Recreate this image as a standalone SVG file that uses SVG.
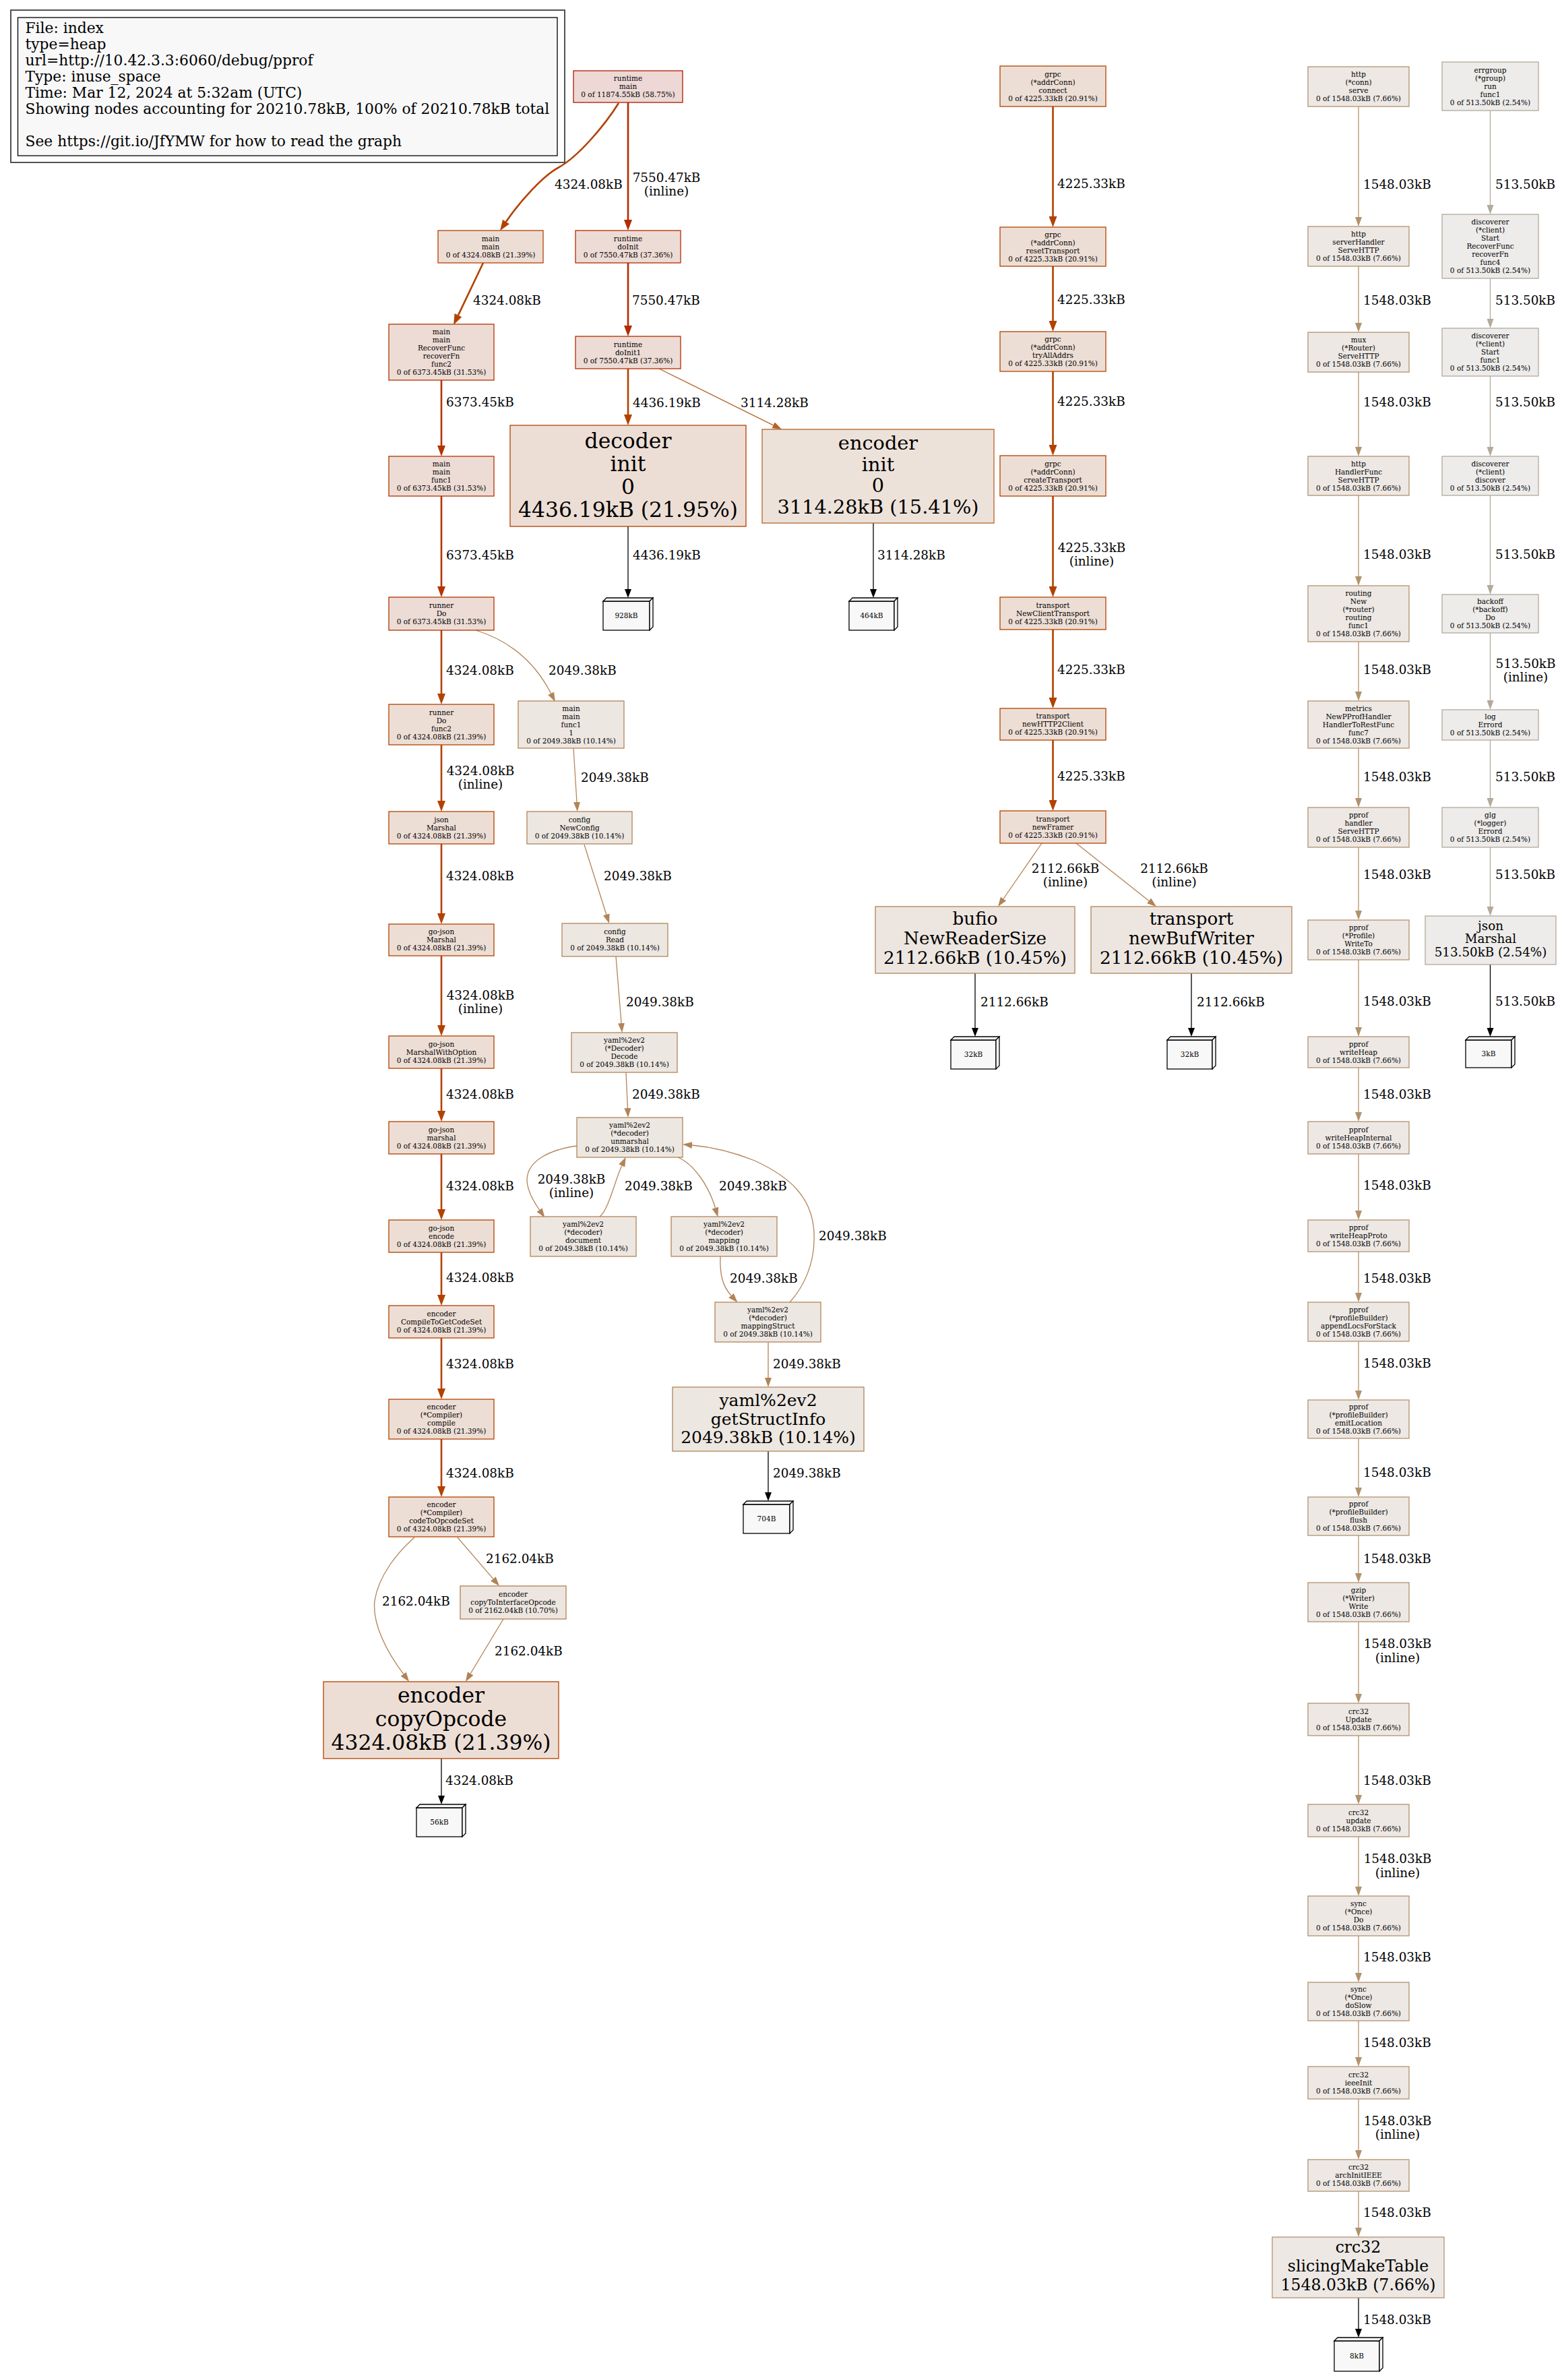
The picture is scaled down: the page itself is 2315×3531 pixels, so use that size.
<svg xmlns="http://www.w3.org/2000/svg" width="2315" height="3531" viewBox="0 0 2315 3531">
<defs>
<style>
text{font-family:"DejaVu Serif","Liberation Serif",serif;fill:#000}
.n text{font-size:10.5px;text-anchor:middle}
.n rect,.n polygon{stroke-width:1.3}
.b text{text-anchor:middle}
.g{font-size:21.8px}
.l{font-size:18.4px}
.lc{font-size:18.4px;text-anchor:middle}
.e path{fill:none;stroke-width:1.3}
.e path.t{stroke-width:2.6}
.c58 rect{fill:#edd8d5;stroke:#b21a00}
.c37 rect{fill:#eddbd5;stroke:#b22d00}
.c31 rect{fill:#eddcd5;stroke:#b23400}
.c22 rect{fill:#edded5;stroke:#b24100}
.c21 rect{fill:#edded5;stroke:#b24200}
.c15 rect{fill:#ede2da;stroke:#b26428}
.c107 rect{fill:#ede6e0;stroke:#b28153}
.c104 rect{fill:#ede6e0;stroke:#b28355}
.c101 rect{fill:#ede7e1;stroke:#b28458}
.c76 rect{fill:#ede8e4;stroke:#b2926e}
.c25 rect{fill:#edecea;stroke:#b2aa9b}
.tag rect,.tag polygon{fill:#f8f8f8;stroke:#000}
</style>
<marker id="m2d" markerUnits="userSpaceOnUse" markerWidth="16" markerHeight="12" refX="0" refY="6" orient="auto"><path d="M0,0L16,6L0,12z" fill="#b22d00"/></marker>
<marker id="m34" markerUnits="userSpaceOnUse" markerWidth="16" markerHeight="12" refX="0" refY="6" orient="auto"><path d="M0,0L16,6L0,12z" fill="#b23400"/></marker>
<marker id="m41" markerUnits="userSpaceOnUse" markerWidth="16" markerHeight="12" refX="0" refY="6" orient="auto"><path d="M0,0L16,6L0,12z" fill="#b24100"/></marker>
<marker id="m42" markerUnits="userSpaceOnUse" markerWidth="16" markerHeight="12" refX="0" refY="6" orient="auto"><path d="M0,0L16,6L0,12z" fill="#b24200"/></marker>
<marker id="m64" markerUnits="userSpaceOnUse" markerWidth="14" markerHeight="10" refX="0" refY="5" orient="auto"><path d="M0,0L14,5L0,10z" fill="#b26428"/></marker>
<marker id="m81" markerUnits="userSpaceOnUse" markerWidth="14" markerHeight="10" refX="0" refY="5" orient="auto"><path d="M0,0L14,5L0,10z" fill="#b28153"/></marker>
<marker id="m83" markerUnits="userSpaceOnUse" markerWidth="14" markerHeight="10" refX="0" refY="5" orient="auto"><path d="M0,0L14,5L0,10z" fill="#b28355"/></marker>
<marker id="m84" markerUnits="userSpaceOnUse" markerWidth="14" markerHeight="10" refX="0" refY="5" orient="auto"><path d="M0,0L14,5L0,10z" fill="#b28458"/></marker>
<marker id="m92" markerUnits="userSpaceOnUse" markerWidth="14" markerHeight="10" refX="0" refY="5" orient="auto"><path d="M0,0L14,5L0,10z" fill="#b2926e"/></marker>
<marker id="maa" markerUnits="userSpaceOnUse" markerWidth="14" markerHeight="10" refX="0" refY="5" orient="auto"><path d="M0,0L14,5L0,10z" fill="#b2aa9b"/></marker>
<marker id="mk" markerUnits="userSpaceOnUse" markerWidth="13" markerHeight="10" refX="0" refY="5" orient="auto"><path d="M0,0L13,5L0,10z" fill="#000"/></marker>
</defs>
<rect width="2315" height="3531" fill="#fff"/>

<g id="legend">
<rect x="16" y="15" width="822" height="226" fill="#fff" stroke="#404040" stroke-width="1.8"/>
<rect x="26.5" y="26" width="800.5" height="205" fill="#f8f8f8" stroke="#000" stroke-width="1.3"/>
<text class="g" x="37.5" y="49">File: index</text>
<text class="g" x="37.5" y="73">type=heap</text>
<text class="g" x="37.5" y="97">url=http://10.42.3.3:6060/debug/pprof</text>
<text class="g" x="37.5" y="121">Type: inuse_space</text>
<text class="g" x="37.5" y="145">Time: Mar 12, 2024 at 5:32am (UTC)</text>
<text class="g" x="37.5" y="169">Showing nodes accounting for 20210.78kB, 100% of 20210.78kB total</text>
<text class="g" x="37.5" y="217">See https://git.io/JfYMW for how to read the graph</text>
</g>

<g id="edges" class="e">
<path class="t" d="M918,153 C898,185 858,233 828,249 C806,261 772,298 751,329" stroke="#b24200" marker-end="url(#m42)"/>
<text class="l" x="823" y="279.5">4324.08kB</text>
<path class="t" d="M932,152 L932,326" stroke="#b22d00" marker-end="url(#m2d)"/>
<text class="lc" x="989" y="270">7550.47kB</text><text class="lc" x="989" y="290">(inline)</text>
<path class="t" d="M717,390 L680,467.6" stroke="#b24200" marker-end="url(#m42)"/>
<text class="l" x="702" y="451.5">4324.08kB</text>
<path class="t" d="M932,390 L932,483" stroke="#b22d00" marker-end="url(#m2d)"/>
<text class="l" x="938" y="451.5">7550.47kB</text>
<path class="t" d="M932,547 L932,615" stroke="#b24100" marker-end="url(#m41)"/>
<text class="l" x="939" y="603.5">4436.19kB</text>
<path d="M978,547 L1147.5,630.8" stroke="#b26428" marker-end="url(#m64)"/>
<text class="l" x="1099" y="603.5">3114.28kB</text>
<path class="t" d="M655,564 L655,661" stroke="#b23400" marker-end="url(#m34)"/>
<text class="l" x="662" y="602.5">6373.45kB</text>
<path class="t" d="M655,736 L655,870" stroke="#b23400" marker-end="url(#m34)"/>
<text class="l" x="662" y="829.5">6373.45kB</text>
<path class="t" d="M655,935 L655,1029" stroke="#b24200" marker-end="url(#m42)"/>
<text class="l" x="662" y="1000.5">4324.08kB</text>
<path d="M706,935 C748,948 790,975 817.6,1028.8" stroke="#b28458" marker-end="url(#m84)"/>
<text class="l" x="814" y="1000.5">2049.38kB</text>
<path class="t" d="M655,1105 L655,1188" stroke="#b24200" marker-end="url(#m42)"/>
<text class="lc" x="713" y="1149.5">4324.08kB</text><text class="lc" x="713" y="1169.5">(inline)</text>
<path class="t" d="M655,1252 L655,1355" stroke="#b24200" marker-end="url(#m42)"/>
<text class="l" x="662" y="1305.5">4324.08kB</text>
<path class="t" d="M655,1418 L655,1521" stroke="#b24200" marker-end="url(#m42)"/>
<text class="lc" x="713" y="1482.5">4324.08kB</text><text class="lc" x="713" y="1503">(inline)</text>
<path class="t" d="M655,1585 L655,1648" stroke="#b24200" marker-end="url(#m42)"/>
<text class="l" x="662" y="1629.5">4324.08kB</text>
<path class="t" d="M655,1712 L655,1794" stroke="#b24200" marker-end="url(#m42)"/>
<text class="l" x="662" y="1765.5">4324.08kB</text>
<path class="t" d="M655,1858 L655,1921" stroke="#b24200" marker-end="url(#m42)"/>
<text class="l" x="662" y="1901.5">4324.08kB</text>
<path class="t" d="M655,1985 L655,2060" stroke="#b24200" marker-end="url(#m42)"/>
<text class="l" x="662" y="2029.5">4324.08kB</text>
<path class="t" d="M655,2135 L655,2205" stroke="#b24200" marker-end="url(#m42)"/>
<text class="l" x="662" y="2191.5">4324.08kB</text>
<path d="M615,2281 C590,2303 562,2337 556,2375 C552,2410 575,2452 598.7,2483.7" stroke="#b28153" marker-end="url(#m81)"/>
<text class="l" x="567" y="2381.5">2162.04kB</text>
<path d="M679,2281 L731.9,2342.4" stroke="#b28153" marker-end="url(#m81)"/>
<text class="l" x="721" y="2318.5">2162.04kB</text>
<path d="M747,2402 L698.2,2483" stroke="#b28153" marker-end="url(#m81)"/>
<text class="l" x="734" y="2455.5">2162.04kB</text>
<path d="M655,2609 L655,2664" stroke="#000" marker-end="url(#mk)"/>
<text class="l" x="661" y="2647.5">4324.08kB</text>
<path d="M932,781 L932,874" stroke="#000" marker-end="url(#mk)"/>
<text class="l" x="939" y="829.5">4436.19kB</text>
<path d="M1296,776 L1296,874" stroke="#000" marker-end="url(#mk)"/>
<text class="l" x="1302" y="829.5">3114.28kB</text>
<path d="M851,1110 L856,1190" stroke="#b28458" marker-end="url(#m84)"/>
<text class="l" x="862" y="1159.5">2049.38kB</text>
<path d="M867,1253 L899.8,1356.7" stroke="#b28458" marker-end="url(#m84)"/>
<text class="l" x="896" y="1305.5">2049.38kB</text>
<path d="M914,1419 L922,1518" stroke="#b28458" marker-end="url(#m84)"/>
<text class="l" x="929" y="1492.5">2049.38kB</text>
<path d="M929,1591 L931.4,1644" stroke="#b28458" marker-end="url(#m84)"/>
<text class="l" x="938" y="1629.5">2049.38kB</text>
<path d="M856,1700 C815,1706 783,1722 782,1750 C782,1765 790,1780 800.5,1795" stroke="#b28458" marker-end="url(#m84)"/>
<text class="lc" x="848" y="1755.5">2049.38kB</text><text class="lc" x="848" y="1776">(inline)</text>
<path d="M890,1805 C903,1795 913,1750 922.7,1729.5" stroke="#b28458" marker-end="url(#m84)"/>
<text class="l" x="927" y="1765.5">2049.38kB</text>
<path d="M1006,1717 C1030,1727 1052,1760 1061.4,1792" stroke="#b28458" marker-end="url(#m84)"/>
<text class="l" x="1067" y="1765.5">2049.38kB</text>
<path d="M1069,1864 C1068,1890 1072,1908 1085,1922" stroke="#b28458" marker-end="url(#m84)"/>
<text class="l" x="1083" y="1902.5">2049.38kB</text>
<path d="M1172,1932 C1192,1910 1210,1875 1208,1830 C1206,1775 1170,1745 1120,1722 C1090,1710 1060,1702 1027,1699" stroke="#b28458" marker-end="url(#m84)"/>
<text class="l" x="1215" y="1839.5">2049.38kB</text>
<path d="M1140,1991 L1140,2044" stroke="#b28458" marker-end="url(#m84)"/>
<text class="l" x="1147" y="2029.5">2049.38kB</text>
<path d="M1140,2153 L1140,2214" stroke="#000" marker-end="url(#mk)"/>
<text class="l" x="1147" y="2191.5">2049.38kB</text>
<path class="t" d="M1562.5,158 L1562.5,321" stroke="#b24200" marker-end="url(#m42)"/>
<text class="l" x="1569" y="278.5">4225.33kB</text>
<path class="t" d="M1562.5,395 L1562.5,476" stroke="#b24200" marker-end="url(#m42)"/>
<text class="l" x="1569" y="450.5">4225.33kB</text>
<path class="t" d="M1562.5,551 L1562.5,660" stroke="#b24200" marker-end="url(#m42)"/>
<text class="l" x="1569" y="601.5">4225.33kB</text>
<path class="t" d="M1562.5,736 L1562.5,870" stroke="#b24200" marker-end="url(#m42)"/>
<text class="lc" x="1620" y="818.5">4225.33kB</text><text class="lc" x="1620" y="839">(inline)</text>
<path class="t" d="M1562.5,934 L1562.5,1035" stroke="#b24200" marker-end="url(#m42)"/>
<text class="l" x="1569" y="999.5">4225.33kB</text>
<path class="t" d="M1562.5,1098 L1562.5,1187" stroke="#b24200" marker-end="url(#m42)"/>
<text class="l" x="1569" y="1157.5">4225.33kB</text>
<path d="M1546,1251 L1489,1333.5" stroke="#b28355" marker-end="url(#m83)"/>
<text class="lc" x="1581" y="1294.5">2112.66kB</text><text class="lc" x="1581" y="1315">(inline)</text>
<path d="M1597,1251 L1705,1336.4" stroke="#b28355" marker-end="url(#m83)"/>
<text class="lc" x="1742.5" y="1294.5">2112.66kB</text><text class="lc" x="1742.5" y="1315">(inline)</text>
<path d="M1447,1444 L1447,1525" stroke="#000" marker-end="url(#mk)"/>
<text class="l" x="1455" y="1492.5">2112.66kB</text>
<path d="M1768,1444 L1768,1525" stroke="#000" marker-end="url(#mk)"/>
<text class="l" x="1776" y="1492.5">2112.66kB</text>
<path d="M2016,158 L2016,322" stroke="#b2926e" marker-end="url(#m92)"/>
<text class="l" x="2023" y="279.5">1548.03kB</text>
<path d="M2016,395 L2016,479" stroke="#b2926e" marker-end="url(#m92)"/>
<text class="l" x="2023" y="451.5">1548.03kB</text>
<path d="M2016,552 L2016,663" stroke="#b2926e" marker-end="url(#m92)"/>
<text class="l" x="2023" y="602.5">1548.03kB</text>
<path d="M2016,735 L2016,855" stroke="#b2926e" marker-end="url(#m92)"/>
<text class="l" x="2023" y="828.5">1548.03kB</text>
<path d="M2016,952 L2016,1026" stroke="#b2926e" marker-end="url(#m92)"/>
<text class="l" x="2023" y="999.5">1548.03kB</text>
<path d="M2016,1110 L2016,1184" stroke="#b2926e" marker-end="url(#m92)"/>
<text class="l" x="2023" y="1158.5">1548.03kB</text>
<path d="M2016,1257 L2016,1351" stroke="#b2926e" marker-end="url(#m92)"/>
<text class="l" x="2023" y="1303.5">1548.03kB</text>
<path d="M2016,1424 L2016,1524" stroke="#b2926e" marker-end="url(#m92)"/>
<text class="l" x="2023" y="1491.5">1548.03kB</text>
<path d="M2016,1584 L2016,1650" stroke="#b2926e" marker-end="url(#m92)"/>
<text class="l" x="2023" y="1629.5">1548.03kB</text>
<path d="M2016,1712 L2016,1796" stroke="#b2926e" marker-end="url(#m92)"/>
<text class="l" x="2023" y="1764.5">1548.03kB</text>
<path d="M2016,1857 L2016,1918" stroke="#b2926e" marker-end="url(#m92)"/>
<text class="l" x="2023" y="1902.5">1548.03kB</text>
<path d="M2016,1990 L2016,2063" stroke="#b2926e" marker-end="url(#m92)"/>
<text class="l" x="2023" y="2028.5">1548.03kB</text>
<path d="M2016,2134 L2016,2207" stroke="#b2926e" marker-end="url(#m92)"/>
<text class="l" x="2023" y="2190.5">1548.03kB</text>
<path d="M2016,2278 L2016,2334" stroke="#b2926e" marker-end="url(#m92)"/>
<text class="l" x="2023" y="2318.5">1548.03kB</text>
<path d="M2016,2406 L2016,2513" stroke="#b2926e" marker-end="url(#m92)"/>
<text class="lc" x="2074" y="2444.5">1548.03kB</text><text class="lc" x="2074" y="2466">(inline)</text>
<path d="M2016,2575 L2016,2663" stroke="#b2926e" marker-end="url(#m92)"/>
<text class="l" x="2023" y="2647.5">1548.03kB</text>
<path d="M2016,2725 L2016,2799" stroke="#b2926e" marker-end="url(#m92)"/>
<text class="lc" x="2074" y="2763.5">1548.03kB</text><text class="lc" x="2074" y="2785">(inline)</text>
<path d="M2016,2872 L2016,2927" stroke="#b2926e" marker-end="url(#m92)"/>
<text class="l" x="2023" y="2909.5">1548.03kB</text>
<path d="M2016,2998 L2016,3052" stroke="#b2926e" marker-end="url(#m92)"/>
<text class="l" x="2023" y="3036.5">1548.03kB</text>
<path d="M2016,3114 L2016,3190" stroke="#b2926e" marker-end="url(#m92)"/>
<text class="lc" x="2074" y="3152.5">1548.03kB</text><text class="lc" x="2074" y="3173">(inline)</text>
<path d="M2016,3251 L2016,3305" stroke="#b2926e" marker-end="url(#m92)"/>
<text class="l" x="2023" y="3288.5">1548.03kB</text>
<path d="M2016,3409 L2016,3455" stroke="#000" marker-end="url(#mk)"/>
<text class="l" x="2023" y="3447.5">1548.03kB</text>
<path d="M2211.5,164 L2211.5,304" stroke="#b2aa9b" marker-end="url(#maa)"/>
<text class="l" x="2219" y="279.5">513.50kB</text>
<path d="M2211.5,413 L2211.5,473" stroke="#b2aa9b" marker-end="url(#maa)"/>
<text class="l" x="2219" y="451.5">513.50kB</text>
<path d="M2211.5,558 L2211.5,663" stroke="#b2aa9b" marker-end="url(#maa)"/>
<text class="l" x="2219" y="602.5">513.50kB</text>
<path d="M2211.5,735 L2211.5,868" stroke="#b2aa9b" marker-end="url(#maa)"/>
<text class="l" x="2219" y="828.5">513.50kB</text>
<path d="M2211.5,939 L2211.5,1039" stroke="#b2aa9b" marker-end="url(#maa)"/>
<text class="lc" x="2264" y="990.5">513.50kB</text><text class="lc" x="2264" y="1010.5">(inline)</text>
<path d="M2211.5,1098 L2211.5,1184" stroke="#b2aa9b" marker-end="url(#maa)"/>
<text class="l" x="2219" y="1158.5">513.50kB</text>
<path d="M2211.5,1257 L2211.5,1345" stroke="#b2aa9b" marker-end="url(#maa)"/>
<text class="l" x="2219" y="1303.5">513.50kB</text>
<path d="M2211.5,1431 L2211.5,1525" stroke="#000" marker-end="url(#mk)"/>
<text class="l" x="2219" y="1491.5">513.50kB</text>
</g>

<g id="node-runtime-main" class="n c58"><rect x="851" y="105" width="162" height="47"/><text y="120.2"><tspan x="932">runtime</tspan><tspan x="932" dy="12">main</tspan><tspan x="932" dy="12">0 of 11874.55kB (58.75%)</tspan></text></g>
<g id="node-main-main" class="n c21"><rect x="650" y="342" width="156" height="48"/><text y="357.7"><tspan x="728">main</tspan><tspan x="728" dy="12">main</tspan><tspan x="728" dy="12">0 of 4324.08kB (21.39%)</tspan></text></g>
<g id="node-runtime-doInit" class="n c37"><rect x="854" y="342" width="156" height="48"/><text y="357.7"><tspan x="932">runtime</tspan><tspan x="932" dy="12">doInit</tspan><tspan x="932" dy="12">0 of 7550.47kB (37.36%)</tspan></text></g>
<g id="node-recover" class="n c31"><rect x="577" y="481" width="156" height="83"/><text y="496.2"><tspan x="655">main</tspan><tspan x="655" dy="12">main</tspan><tspan x="655" dy="12">RecoverFunc</tspan><tspan x="655" dy="12">recoverFn</tspan><tspan x="655" dy="12">func2</tspan><tspan x="655" dy="12">0 of 6373.45kB (31.53%)</tspan></text></g>
<g id="node-runtime-doInit1" class="n c37"><rect x="854" y="499" width="156" height="48"/><text y="514.7"><tspan x="932">runtime</tspan><tspan x="932" dy="12">doInit1</tspan><tspan x="932" dy="12">0 of 7550.47kB (37.36%)</tspan></text></g>
<g id="node-main-func1" class="n c31"><rect x="577" y="677" width="156" height="59"/><text y="692.2"><tspan x="655">main</tspan><tspan x="655" dy="12">main</tspan><tspan x="655" dy="12">func1</tspan><tspan x="655" dy="12">0 of 6373.45kB (31.53%)</tspan></text></g>
<g id="node-runner-Do" class="n c31"><rect x="577" y="886" width="156" height="49"/><text y="902.2"><tspan x="655">runner</tspan><tspan x="655" dy="12">Do</tspan><tspan x="655" dy="12">0 of 6373.45kB (31.53%)</tspan></text></g>
<g id="node-runner-Do-func2" class="n c21"><rect x="577" y="1045" width="156" height="60"/><text y="1060.7"><tspan x="655">runner</tspan><tspan x="655" dy="12">Do</tspan><tspan x="655" dy="12">func2</tspan><tspan x="655" dy="12">0 of 4324.08kB (21.39%)</tspan></text></g>
<g id="node-json-Marshal-0" class="n c21"><rect x="577" y="1204" width="156" height="48"/><text y="1219.7"><tspan x="655">json</tspan><tspan x="655" dy="12">Marshal</tspan><tspan x="655" dy="12">0 of 4324.08kB (21.39%)</tspan></text></g>
<g id="node-gojson-Marshal" class="n c21"><rect x="577" y="1371" width="156" height="47"/><text y="1386.2"><tspan x="655">go-json</tspan><tspan x="655" dy="12">Marshal</tspan><tspan x="655" dy="12">0 of 4324.08kB (21.39%)</tspan></text></g>
<g id="node-gojson-MarshalWithOption" class="n c21"><rect x="577" y="1537" width="156" height="48"/><text y="1552.7"><tspan x="655">go-json</tspan><tspan x="655" dy="12">MarshalWithOption</tspan><tspan x="655" dy="12">0 of 4324.08kB (21.39%)</tspan></text></g>
<g id="node-gojson-marshal" class="n c21"><rect x="577" y="1664" width="156" height="48"/><text y="1679.7"><tspan x="655">go-json</tspan><tspan x="655" dy="12">marshal</tspan><tspan x="655" dy="12">0 of 4324.08kB (21.39%)</tspan></text></g>
<g id="node-gojson-encode" class="n c21"><rect x="577" y="1810" width="156" height="48"/><text y="1825.7"><tspan x="655">go-json</tspan><tspan x="655" dy="12">encode</tspan><tspan x="655" dy="12">0 of 4324.08kB (21.39%)</tspan></text></g>
<g id="node-encoder-CompileToGetCodeSet" class="n c21"><rect x="577" y="1937" width="156" height="48"/><text y="1952.7"><tspan x="655">encoder</tspan><tspan x="655" dy="12">CompileToGetCodeSet</tspan><tspan x="655" dy="12">0 of 4324.08kB (21.39%)</tspan></text></g>
<g id="node-encoder-compile" class="n c21"><rect x="577" y="2076" width="156" height="59"/><text y="2091.2"><tspan x="655">encoder</tspan><tspan x="655" dy="12">(*Compiler)</tspan><tspan x="655" dy="12">compile</tspan><tspan x="655" dy="12">0 of 4324.08kB (21.39%)</tspan></text></g>
<g id="node-encoder-codeToOpcodeSet" class="n c21"><rect x="577" y="2221" width="156" height="59"/><text y="2236.2"><tspan x="655">encoder</tspan><tspan x="655" dy="12">(*Compiler)</tspan><tspan x="655" dy="12">codeToOpcodeSet</tspan><tspan x="655" dy="12">0 of 4324.08kB (21.39%)</tspan></text></g>
<g id="node-encoder-copyToInterfaceOpcode" class="n c107"><rect x="683" y="2353" width="157" height="49"/><text y="2369.2"><tspan x="761.5">encoder</tspan><tspan x="761.5" dy="12">copyToInterfaceOpcode</tspan><tspan x="761.5" dy="12">0 of 2162.04kB (10.70%)</tspan></text></g>
<g id="node-encoder-copyOpcode" class="n b c21"><rect x="480" y="2495" width="349" height="114"/><text y="2525.5" style="font-size:31.4px"><tspan x="654.5">encoder</tspan><tspan x="654.5" dy="35">copyOpcode</tspan><tspan x="654.5" dy="35">4324.08kB (21.39%)</tspan></text></g>

<g id="node-decoder-init" class="n b c22"><rect x="757" y="631" width="350" height="150"/><text y="664.5" style="font-size:31.4px"><tspan x="932">decoder</tspan><tspan x="932" dy="34">init</tspan><tspan x="932" dy="34">0</tspan><tspan x="932" dy="34">4436.19kB (21.95%)</tspan></text></g>
<g id="node-encoder-init" class="n b c15"><rect x="1131" y="637" width="344" height="139"/><text y="667" style="font-size:28.8px"><tspan x="1303">encoder</tspan><tspan x="1303" dy="31.7">init</tspan><tspan x="1303" dy="31.7">0</tspan><tspan x="1303" dy="31.7">3114.28kB (15.41%)</tspan></text></g>
<g id="node-main-func1-1" class="n c101"><rect x="769" y="1040" width="157" height="70"/><text y="1054.7"><tspan x="847.5">main</tspan><tspan x="847.5" dy="12">main</tspan><tspan x="847.5" dy="12">func1</tspan><tspan x="847.5" dy="12">1</tspan><tspan x="847.5" dy="12">0 of 2049.38kB (10.14%)</tspan></text></g>
<g id="node-config-NewConfig" class="n c101"><rect x="782" y="1204" width="156" height="48"/><text y="1219.7"><tspan x="860">config</tspan><tspan x="860" dy="12">NewConfig</tspan><tspan x="860" dy="12">0 of 2049.38kB (10.14%)</tspan></text></g>
<g id="node-config-Read" class="n c101"><rect x="834" y="1370" width="157" height="49"/><text y="1386.2"><tspan x="912.5">config</tspan><tspan x="912.5" dy="12">Read</tspan><tspan x="912.5" dy="12">0 of 2049.38kB (10.14%)</tspan></text></g>
<g id="node-yaml-Decode" class="n c101"><rect x="848" y="1532" width="157" height="59"/><text y="1547.2"><tspan x="926.5">yaml%2ev2</tspan><tspan x="926.5" dy="12">(*Decoder)</tspan><tspan x="926.5" dy="12">Decode</tspan><tspan x="926.5" dy="12">0 of 2049.38kB (10.14%)</tspan></text></g>
<g id="node-yaml-unmarshal" class="n c101"><rect x="856" y="1658" width="157" height="59"/><text y="1673.2"><tspan x="934.5">yaml%2ev2</tspan><tspan x="934.5" dy="12">(*decoder)</tspan><tspan x="934.5" dy="12">unmarshal</tspan><tspan x="934.5" dy="12">0 of 2049.38kB (10.14%)</tspan></text></g>
<g id="node-yaml-document" class="n c101"><rect x="787" y="1805" width="157" height="59"/><text y="1820.2"><tspan x="865.5">yaml%2ev2</tspan><tspan x="865.5" dy="12">(*decoder)</tspan><tspan x="865.5" dy="12">document</tspan><tspan x="865.5" dy="12">0 of 2049.38kB (10.14%)</tspan></text></g>
<g id="node-yaml-mapping" class="n c101"><rect x="996" y="1805" width="157" height="59"/><text y="1820.2"><tspan x="1074.5">yaml%2ev2</tspan><tspan x="1074.5" dy="12">(*decoder)</tspan><tspan x="1074.5" dy="12">mapping</tspan><tspan x="1074.5" dy="12">0 of 2049.38kB (10.14%)</tspan></text></g>
<g id="node-yaml-mappingStruct" class="n c101"><rect x="1061" y="1932" width="157" height="59"/><text y="1947.2"><tspan x="1139.5">yaml%2ev2</tspan><tspan x="1139.5" dy="12">(*decoder)</tspan><tspan x="1139.5" dy="12">mappingStruct</tspan><tspan x="1139.5" dy="12">0 of 2049.38kB (10.14%)</tspan></text></g>
<g id="node-yaml-getStructInfo" class="n b c101"><rect x="998" y="2058" width="284" height="95"/><text y="2086" style="font-size:25px"><tspan x="1140">yaml%2ev2</tspan><tspan x="1140" dy="27.5">getStructInfo</tspan><tspan x="1140" dy="27.5">2049.38kB (10.14%)</tspan></text></g>

<g id="node-grpc-connect" class="n c21"><rect x="1484" y="98" width="157" height="60"/><text y="113.7"><tspan x="1562.5">grpc</tspan><tspan x="1562.5" dy="12">(*addrConn)</tspan><tspan x="1562.5" dy="12">connect</tspan><tspan x="1562.5" dy="12">0 of 4225.33kB (20.91%)</tspan></text></g>
<g id="node-grpc-resetTransport" class="n c21"><rect x="1484" y="337" width="157" height="58"/><text y="351.7"><tspan x="1562.5">grpc</tspan><tspan x="1562.5" dy="12">(*addrConn)</tspan><tspan x="1562.5" dy="12">resetTransport</tspan><tspan x="1562.5" dy="12">0 of 4225.33kB (20.91%)</tspan></text></g>
<g id="node-grpc-tryAllAddrs" class="n c21"><rect x="1484" y="492" width="157" height="59"/><text y="507.2"><tspan x="1562.5">grpc</tspan><tspan x="1562.5" dy="12">(*addrConn)</tspan><tspan x="1562.5" dy="12">tryAllAddrs</tspan><tspan x="1562.5" dy="12">0 of 4225.33kB (20.91%)</tspan></text></g>
<g id="node-grpc-createTransport" class="n c21"><rect x="1484" y="676" width="157" height="60"/><text y="691.7"><tspan x="1562.5">grpc</tspan><tspan x="1562.5" dy="12">(*addrConn)</tspan><tspan x="1562.5" dy="12">createTransport</tspan><tspan x="1562.5" dy="12">0 of 4225.33kB (20.91%)</tspan></text></g>
<g id="node-transport-NewClientTransport" class="n c21"><rect x="1484" y="886" width="157" height="48"/><text y="901.7"><tspan x="1562.5">transport</tspan><tspan x="1562.5" dy="12">NewClientTransport</tspan><tspan x="1562.5" dy="12">0 of 4225.33kB (20.91%)</tspan></text></g>
<g id="node-transport-newHTTP2Client" class="n c21"><rect x="1484" y="1051" width="157" height="47"/><text y="1066.2"><tspan x="1562.5">transport</tspan><tspan x="1562.5" dy="12">newHTTP2Client</tspan><tspan x="1562.5" dy="12">0 of 4225.33kB (20.91%)</tspan></text></g>
<g id="node-transport-newFramer" class="n c21"><rect x="1484" y="1203" width="157" height="48"/><text y="1218.7"><tspan x="1562.5">transport</tspan><tspan x="1562.5" dy="12">newFramer</tspan><tspan x="1562.5" dy="12">0 of 4225.33kB (20.91%)</tspan></text></g>
<g id="node-bufio-NewReaderSize" class="n b c104"><rect x="1299" y="1345" width="296" height="99"/><text y="1372.3" style="font-size:26.2px"><tspan x="1447">bufio</tspan><tspan x="1447" dy="28.6">NewReaderSize</tspan><tspan x="1447" dy="28.6">2112.66kB (10.45%)</tspan></text></g>
<g id="node-transport-newBufWriter" class="n b c104"><rect x="1619" y="1345" width="298" height="99"/><text y="1372.3" style="font-size:26.2px"><tspan x="1768">transport</tspan><tspan x="1768" dy="28.6">newBufWriter</tspan><tspan x="1768" dy="28.6">2112.66kB (10.45%)</tspan></text></g>

<g id="node-http-serve" class="n c76"><rect x="1941" y="99" width="150" height="59"/><text y="114.2"><tspan x="2016">http</tspan><tspan x="2016" dy="12">(*conn)</tspan><tspan x="2016" dy="12">serve</tspan><tspan x="2016" dy="12">0 of 1548.03kB (7.66%)</tspan></text></g>
<g id="node-http-serverHandler" class="n c76"><rect x="1941" y="336" width="150" height="59"/><text y="351.2"><tspan x="2016">http</tspan><tspan x="2016" dy="12">serverHandler</tspan><tspan x="2016" dy="12">ServeHTTP</tspan><tspan x="2016" dy="12">0 of 1548.03kB (7.66%)</tspan></text></g>
<g id="node-mux-ServeHTTP" class="n c76"><rect x="1941" y="493" width="150" height="59"/><text y="508.2"><tspan x="2016">mux</tspan><tspan x="2016" dy="12">(*Router)</tspan><tspan x="2016" dy="12">ServeHTTP</tspan><tspan x="2016" dy="12">0 of 1548.03kB (7.66%)</tspan></text></g>
<g id="node-http-HandlerFunc" class="n c76"><rect x="1941" y="677" width="150" height="58"/><text y="691.7"><tspan x="2016">http</tspan><tspan x="2016" dy="12">HandlerFunc</tspan><tspan x="2016" dy="12">ServeHTTP</tspan><tspan x="2016" dy="12">0 of 1548.03kB (7.66%)</tspan></text></g>
<g id="node-routing-func1" class="n c76"><rect x="1941" y="869" width="150" height="83"/><text y="884.2"><tspan x="2016">routing</tspan><tspan x="2016" dy="12">New</tspan><tspan x="2016" dy="12">(*router)</tspan><tspan x="2016" dy="12">routing</tspan><tspan x="2016" dy="12">func1</tspan><tspan x="2016" dy="12">0 of 1548.03kB (7.66%)</tspan></text></g>
<g id="node-metrics-func7" class="n c76"><rect x="1941" y="1040" width="150" height="70"/><text y="1054.7"><tspan x="2016">metrics</tspan><tspan x="2016" dy="12">NewPProfHandler</tspan><tspan x="2016" dy="12">HandlerToRestFunc</tspan><tspan x="2016" dy="12">func7</tspan><tspan x="2016" dy="12">0 of 1548.03kB (7.66%)</tspan></text></g>
<g id="node-pprof-handler" class="n c76"><rect x="1941" y="1198" width="150" height="59"/><text y="1213.2"><tspan x="2016">pprof</tspan><tspan x="2016" dy="12">handler</tspan><tspan x="2016" dy="12">ServeHTTP</tspan><tspan x="2016" dy="12">0 of 1548.03kB (7.66%)</tspan></text></g>
<g id="node-pprof-WriteTo" class="n c76"><rect x="1941" y="1365" width="150" height="59"/><text y="1380.2"><tspan x="2016">pprof</tspan><tspan x="2016" dy="12">(*Profile)</tspan><tspan x="2016" dy="12">WriteTo</tspan><tspan x="2016" dy="12">0 of 1548.03kB (7.66%)</tspan></text></g>
<g id="node-pprof-writeHeap" class="n c76"><rect x="1941" y="1538" width="150" height="46"/><text y="1552.7"><tspan x="2016">pprof</tspan><tspan x="2016" dy="12">writeHeap</tspan><tspan x="2016" dy="12">0 of 1548.03kB (7.66%)</tspan></text></g>
<g id="node-pprof-writeHeapInternal" class="n c76"><rect x="1941" y="1664" width="150" height="48"/><text y="1679.7"><tspan x="2016">pprof</tspan><tspan x="2016" dy="12">writeHeapInternal</tspan><tspan x="2016" dy="12">0 of 1548.03kB (7.66%)</tspan></text></g>
<g id="node-pprof-writeHeapProto" class="n c76"><rect x="1941" y="1810" width="150" height="47"/><text y="1825.2"><tspan x="2016">pprof</tspan><tspan x="2016" dy="12">writeHeapProto</tspan><tspan x="2016" dy="12">0 of 1548.03kB (7.66%)</tspan></text></g>
<g id="node-pprof-appendLocsForStack" class="n c76"><rect x="1941" y="1932" width="150" height="58"/><text y="1946.7"><tspan x="2016">pprof</tspan><tspan x="2016" dy="12">(*profileBuilder)</tspan><tspan x="2016" dy="12">appendLocsForStack</tspan><tspan x="2016" dy="12">0 of 1548.03kB (7.66%)</tspan></text></g>
<g id="node-pprof-emitLocation" class="n c76"><rect x="1941" y="2077" width="150" height="57"/><text y="2091.2"><tspan x="2016">pprof</tspan><tspan x="2016" dy="12">(*profileBuilder)</tspan><tspan x="2016" dy="12">emitLocation</tspan><tspan x="2016" dy="12">0 of 1548.03kB (7.66%)</tspan></text></g>
<g id="node-pprof-flush" class="n c76"><rect x="1941" y="2221" width="150" height="57"/><text y="2235.2"><tspan x="2016">pprof</tspan><tspan x="2016" dy="12">(*profileBuilder)</tspan><tspan x="2016" dy="12">flush</tspan><tspan x="2016" dy="12">0 of 1548.03kB (7.66%)</tspan></text></g>
<g id="node-gzip-Write" class="n c76"><rect x="1941" y="2348" width="150" height="58"/><text y="2362.7"><tspan x="2016">gzip</tspan><tspan x="2016" dy="12">(*Writer)</tspan><tspan x="2016" dy="12">Write</tspan><tspan x="2016" dy="12">0 of 1548.03kB (7.66%)</tspan></text></g>
<g id="node-crc32-Update" class="n c76"><rect x="1941" y="2527" width="150" height="48"/><text y="2542.7"><tspan x="2016">crc32</tspan><tspan x="2016" dy="12">Update</tspan><tspan x="2016" dy="12">0 of 1548.03kB (7.66%)</tspan></text></g>
<g id="node-crc32-update" class="n c76"><rect x="1941" y="2677" width="150" height="48"/><text y="2692.7"><tspan x="2016">crc32</tspan><tspan x="2016" dy="12">update</tspan><tspan x="2016" dy="12">0 of 1548.03kB (7.66%)</tspan></text></g>
<g id="node-sync-Do" class="n c76"><rect x="1941" y="2813" width="150" height="59"/><text y="2828.2"><tspan x="2016">sync</tspan><tspan x="2016" dy="12">(*Once)</tspan><tspan x="2016" dy="12">Do</tspan><tspan x="2016" dy="12">0 of 1548.03kB (7.66%)</tspan></text></g>
<g id="node-sync-doSlow" class="n c76"><rect x="1941" y="2941" width="150" height="57"/><text y="2955.2"><tspan x="2016">sync</tspan><tspan x="2016" dy="12">(*Once)</tspan><tspan x="2016" dy="12">doSlow</tspan><tspan x="2016" dy="12">0 of 1548.03kB (7.66%)</tspan></text></g>
<g id="node-crc32-ieeeInit" class="n c76"><rect x="1941" y="3066" width="150" height="48"/><text y="3081.7"><tspan x="2016">crc32</tspan><tspan x="2016" dy="12">ieeeInit</tspan><tspan x="2016" dy="12">0 of 1548.03kB (7.66%)</tspan></text></g>
<g id="node-crc32-archInitIEEE" class="n c76"><rect x="1941" y="3204" width="150" height="47"/><text y="3219.2"><tspan x="2016">crc32</tspan><tspan x="2016" dy="12">archInitIEEE</tspan><tspan x="2016" dy="12">0 of 1548.03kB (7.66%)</tspan></text></g>
<g id="node-crc32-slicingMakeTable" class="n b c76"><rect x="1888" y="3319" width="255" height="90"/><text y="3341.6" style="font-size:23.6px"><tspan x="2015.5">crc32</tspan><tspan x="2015.5" dy="28">slicingMakeTable</tspan><tspan x="2015.5" dy="28">1548.03kB (7.66%)</tspan></text></g>

<g id="node-errgroup-func1" class="n c25"><rect x="2140" y="92" width="143" height="72"/><text y="107.7"><tspan x="2211.5">errgroup</tspan><tspan x="2211.5" dy="12">(*group)</tspan><tspan x="2211.5" dy="12">run</tspan><tspan x="2211.5" dy="12">func1</tspan><tspan x="2211.5" dy="12">0 of 513.50kB (2.54%)</tspan></text></g>
<g id="node-discoverer-func4" class="n c25"><rect x="2140" y="318" width="143" height="95"/><text y="333.2"><tspan x="2211.5">discoverer</tspan><tspan x="2211.5" dy="12">(*client)</tspan><tspan x="2211.5" dy="12">Start</tspan><tspan x="2211.5" dy="12">RecoverFunc</tspan><tspan x="2211.5" dy="12">recoverFn</tspan><tspan x="2211.5" dy="12">func4</tspan><tspan x="2211.5" dy="12">0 of 513.50kB (2.54%)</tspan></text></g>
<g id="node-discoverer-Start-func1" class="n c25"><rect x="2140" y="487" width="143" height="71"/><text y="502.2"><tspan x="2211.5">discoverer</tspan><tspan x="2211.5" dy="12">(*client)</tspan><tspan x="2211.5" dy="12">Start</tspan><tspan x="2211.5" dy="12">func1</tspan><tspan x="2211.5" dy="12">0 of 513.50kB (2.54%)</tspan></text></g>
<g id="node-discoverer-discover" class="n c25"><rect x="2140" y="677" width="143" height="58"/><text y="691.7"><tspan x="2211.5">discoverer</tspan><tspan x="2211.5" dy="12">(*client)</tspan><tspan x="2211.5" dy="12">discover</tspan><tspan x="2211.5" dy="12">0 of 513.50kB (2.54%)</tspan></text></g>
<g id="node-backoff-Do" class="n c25"><rect x="2140" y="882" width="143" height="57"/><text y="896.2"><tspan x="2211.5">backoff</tspan><tspan x="2211.5" dy="12">(*backoff)</tspan><tspan x="2211.5" dy="12">Do</tspan><tspan x="2211.5" dy="12">0 of 513.50kB (2.54%)</tspan></text></g>
<g id="node-log-Errord" class="n c25"><rect x="2140" y="1053" width="143" height="45"/><text y="1067.2"><tspan x="2211.5">log</tspan><tspan x="2211.5" dy="12">Errord</tspan><tspan x="2211.5" dy="12">0 of 513.50kB (2.54%)</tspan></text></g>
<g id="node-glg-Errord" class="n c25"><rect x="2140" y="1198" width="143" height="59"/><text y="1213.2"><tspan x="2211.5">glg</tspan><tspan x="2211.5" dy="12">(*logger)</tspan><tspan x="2211.5" dy="12">Errord</tspan><tspan x="2211.5" dy="12">0 of 513.50kB (2.54%)</tspan></text></g>
<g id="node-json-Marshal-513" class="n b c25"><rect x="2115" y="1359" width="194" height="72"/><text y="1379.7" style="font-size:18.3px"><tspan x="2212">json</tspan><tspan x="2212" dy="19.5">Marshal</tspan><tspan x="2212" dy="19.5">513.50kB (2.54%)</tspan></text></g>

<g id="tag-928kB" class="n tag"><rect x="895" y="892" width="69" height="43"/><polygon points="895,892 900,887 969,887 964,892"/><polygon points="964,892 969,887 969,930 964,935"/><text x="929.5" y="917.2">928kB</text></g>
<g id="tag-464kB" class="n tag"><rect x="1260" y="892" width="67" height="43"/><polygon points="1260,892 1265,887 1332,887 1327,892"/><polygon points="1327,892 1332,887 1332,930 1327,935"/><text x="1293.5" y="917.2">464kB</text></g>
<g id="tag-56kB" class="n tag"><rect x="618" y="2682" width="68" height="43"/><polygon points="618,2682 623,2677 691,2677 686,2682"/><polygon points="686,2682 691,2677 691,2720 686,2725"/><text x="652" y="2707.2">56kB</text></g>
<g id="tag-704B" class="n tag"><rect x="1103" y="2232" width="69" height="43"/><polygon points="1103,2232 1108,2227 1177,2227 1172,2232"/><polygon points="1172,2232 1177,2227 1177,2270 1172,2275"/><text x="1137.5" y="2257.2">704B</text></g>
<g id="tag-32kB-a" class="n tag"><rect x="1411" y="1543" width="67" height="43"/><polygon points="1411,1543 1416,1538 1483,1538 1478,1543"/><polygon points="1478,1543 1483,1538 1483,1581 1478,1586"/><text x="1444.5" y="1568.2">32kB</text></g>
<g id="tag-32kB-b" class="n tag"><rect x="1732" y="1543" width="67" height="43"/><polygon points="1732,1543 1737,1538 1804,1538 1799,1543"/><polygon points="1799,1543 1804,1538 1804,1581 1799,1586"/><text x="1765.5" y="1568.2">32kB</text></g>
<g id="tag-3kB" class="n tag"><rect x="2175" y="1543" width="68" height="41"/><polygon points="2175,1543 2180,1538 2248,1538 2243,1543"/><polygon points="2243,1543 2248,1538 2248,1579 2243,1584"/><text x="2209" y="1567.2">3kB</text></g>
<g id="tag-8kB" class="n tag"><rect x="1980" y="3473" width="67" height="45"/><polygon points="1980,3473 1985,3468 2052,3468 2047,3473"/><polygon points="2047,3473 2052,3468 2052,3513 2047,3518"/><text x="2013.5" y="3499.2">8kB</text></g>
</svg>
